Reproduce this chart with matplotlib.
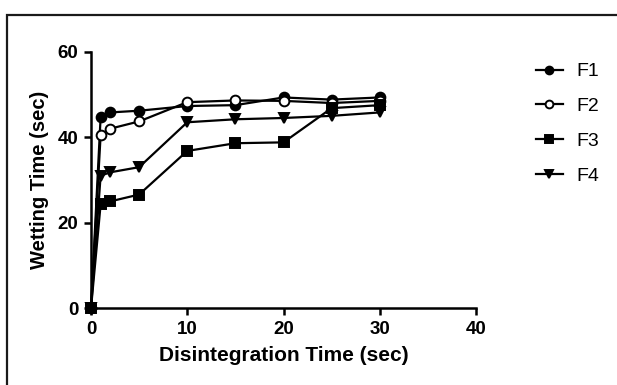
import matplotlib
matplotlib.use("Agg")
import matplotlib.pyplot as plt
from matplotlib.patches import Rectangle

time = [0, 1, 2, 5, 10, 15, 20, 25, 30]
f1 = [0, 44.7, 45.8, 46.2, 47.3, 47.5, 49.3, 48.8, 49.3]
f2 = [0, 40.5, 42.0, 43.7, 48.2, 48.6, 48.5, 48.0, 48.5]
f3 = [0, 24.3, 25.0, 26.6, 36.8, 38.6, 38.8, 46.8, 47.5]
f4 = [0, 31.0, 31.8, 33.0, 43.5, 44.2, 44.5, 45.0, 45.8]
labels = ["F1", "F2", "F3", "F4"]
xticks = [0, 10, 20, 30, 40]
yticks = [0, 20, 40, 60]

plt.rcParams['font.family'] = ['Liberation Sans', 'DejaVu Sans']
fig = plt.figure(figsize=(6.17, 3.85), dpi=100)
fig.patches.append(Rectangle((7/617, -0.1), 1.2, 1.1 - 15/385, transform=fig.transFigure,
                             fill=False, edgecolor='#1a1a1a', linewidth=1.6))
ax = fig.add_axes([91/617, 1-308.3/385, (476-91)/617, (308.3-51.7)/385])

styles = [dict(marker='o', mfc='black'), dict(marker='o', mfc='white'),
          dict(marker='s', mfc='black'), dict(marker='v', mfc='black')]
for ys, lab, st in zip([f1, f2, f3, f4], labels, styles):
    ax.plot(time, ys, color='black', lw=1.6, marker=st['marker'], mfc=st['mfc'],
            mec='black', mew=1.4, ms=7, label=lab, clip_on=False)

ax.set_xlim(0, 40)
ax.set_ylim(0, 60)
ax.set_xticks(xticks)
ax.set_yticks(yticks)
for s in ['top', 'right']:
    ax.spines[s].set_visible(False)
for s in ['left', 'bottom']:
    ax.spines[s].set_linewidth(1.8)
ax.tick_params(width=1.8, length=5, labelsize=13.5, pad=4)
for t in ax.get_xticklabels() + ax.get_yticklabels():
    t.set_fontweight('bold')
ax.set_xlabel("Disintegration Time (sec)", fontsize=15, fontweight='bold', labelpad=6)
ax.set_ylabel("Wetting Time (sec)", fontsize=14.5, fontweight='bold', labelpad=6)

leg = ax.legend(loc='upper left', bbox_to_anchor=(528/617, 1-55/385), bbox_transform=fig.transFigure,
                frameon=False, fontsize=14, handlelength=1.4, labelspacing=0.88, handletextpad=0.7,
                borderaxespad=0, markerscale=0.8)
fig.savefig("out.png", dpi=100)
